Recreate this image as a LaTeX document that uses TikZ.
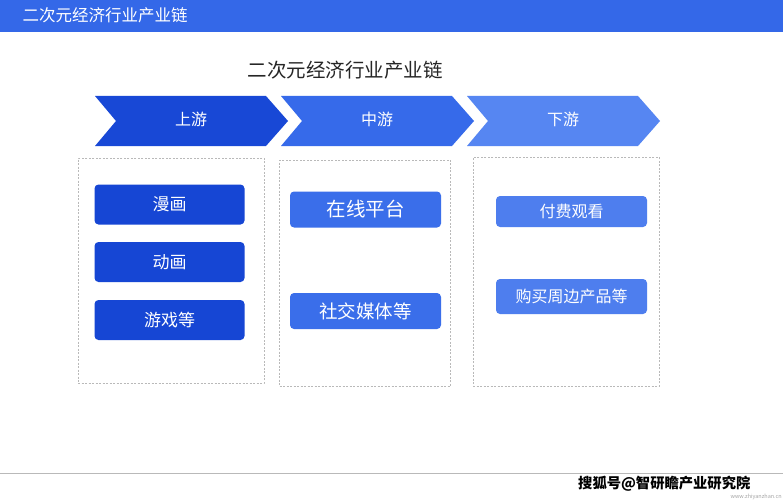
\documentclass[tikz,border=0pt]{standalone}
\usepackage{fontspec}
\setmainfont{Noto Sans CJK SC}
\usetikzlibrary{positioning}
\definecolor{barblue}{RGB}{52,104,232}
\definecolor{chevA}{RGB}{24,72,214}
\definecolor{chevB}{RGB}{54,106,234}
\definecolor{chevC}{RGB}{86,134,242}
\definecolor{itemA}{RGB}{22,70,212}
\definecolor{itemB}{RGB}{58,110,234}
\definecolor{itemC}{RGB}{78,126,238}

\begin{document}
\begin{tikzpicture}[
    x=1pt, y=-1pt,
    chevtext/.style={text=white, font=\fontsize{16}{18}\selectfont},
    frame/.style={
        draw=gray!55,
        dash pattern=on 2pt off 1.5pt,
        line width=0.5pt,
        minimum width=186pt,
        inner sep=0pt
    },
    itembox/.style={
        rounded corners=4pt,
        text=white,
        minimum width=150pt,
        inner sep=0pt,
        font=\fontsize{17}{20}\selectfont
    }
]
\useasboundingbox (0,0) rectangle (783,500);
\fill[white] (0,0) rectangle (783,500);

% header bar
\fill[barblue] (0,0) rectangle (783,32);
\node[text=white, anchor=west, font=\fontsize{16.5}{18}\selectfont] (bar) at (19,15) {二次元经济行业产业链};

% title
\node[font=\fontsize{19.5}{22}\selectfont, text=black!85] (title) at (345,70) {二次元经济行业产业链};

% chevrons
\foreach \x/\col/\name/\txt in {95/chevA/up/上游, 281/chevB/mid/中游, 467/chevC/down/下游} {
    \fill[\col] (\x,96) -- (\x+171,96) -- (\x+193,121) -- (\x+171,146)
        -- (\x,146) -- (\x+21,121) -- cycle;
    \node[chevtext] (\name) at (\x+96,119) {\txt};
}

% dashed frames
\node[frame, minimum height=225pt] (upframe) at (171,270.5) {};
\node[frame, minimum width=171pt, minimum height=226pt] (midframe) at (365,273) {};
\node[frame, minimum height=229pt] (downframe) at (566,271.5) {};

% upstream
\node[itembox, fill=itemA, minimum height=40pt] (manhua) at (169.5,204.5) {漫画};
\node[itembox, fill=itemA, minimum height=40pt] (donghua) at (169.5,262) {动画};
\node[itembox, fill=itemA, minimum height=40pt] (youxi) at (169.5,320) {游戏等};

% midstream
\node[itembox, fill=itemB, minimum width=151pt, minimum height=36pt,
      font=\fontsize{19.5}{22}\selectfont] (online) at (365.5,209.5) {在线平台};
\node[itembox, fill=itemB, minimum width=151pt, minimum height=36pt,
      font=\fontsize{18.5}{22}\selectfont] (social) at (365.5,311) {社交媒体等};

% downstream
\node[itembox, fill=itemC, minimum width=151pt, minimum height=31pt,
      font=\fontsize{16}{18}\selectfont] (paid) at (571.5,211.5) {付费观看};
\node[itembox, fill=itemC, minimum width=151pt, minimum height=35pt,
      font=\fontsize{16}{18}\selectfont] (merch) at (571.5,296.5) {购买周边产品等};

% source line
\coordinate (lineL) at (0,473);
\coordinate (lineR) at (783,473);
\draw[gray!55, line width=0.6pt] (lineL) -- (lineR);
\node[fill=white, inner sep=1pt, font=\bfseries\fontsize{14.3}{16}\selectfont, anchor=west] (sohu) at (577,484) {搜狐号@智研瞻产业研究院};
\node[text=gray!70, inner sep=0pt, font=\fontsize{5.5}{6}\selectfont, anchor=east] (url) at (782,496.5) {www.zhiyanzhan.cn};
\end{tikzpicture}
\end{document}
